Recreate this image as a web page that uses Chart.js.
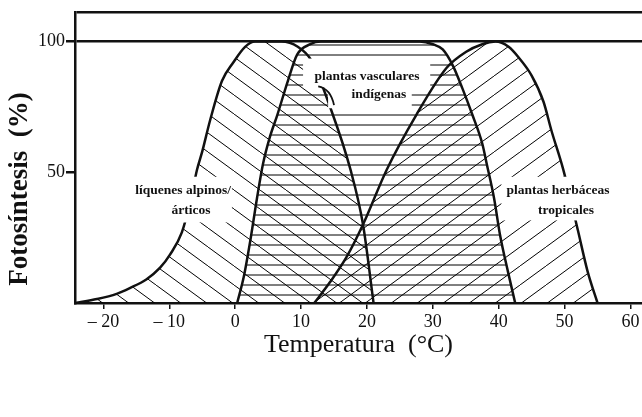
<!DOCTYPE html>
<html>
<head>
<meta charset="utf-8">
<script src="https://cdn.jsdelivr.net/npm/chart.js@4.4.0/dist/chart.umd.min.js"></script>
<style>
  html, body { margin: 0; padding: 0; background: #fff; }
  canvas { display: block; }
</style>
</head>
<body>
<canvas id="fotoChart" width="642" height="417"></canvas>
<script>
// Temperatura (°C) / Fotosíntesis (%)
const liquenesT = [-24.3, -21, -18, -16, -13.5, -11.4, -9.9, -8.1, -6.8, -5.8, -5, -3.8, -2, -0.3, 1.5, 3, 7, 9.5, 11.5, 14.4, 17.5, 19.4, 21];
const liquenesF = [0, 1.5, 3.5, 5.7, 9, 13.5, 18.5, 27, 39, 51, 58, 70, 85, 92, 98, 100, 100, 98, 93, 75, 51, 30, 0];

const vascularesT = [0.3, 1.3, 2.3, 3.3, 4.2, 5.2, 6.4, 8, 9.4, 11.4, 13, 28, 30, 31.5, 33, 34.5, 36, 37.5, 38.2, 39.3, 40.2, 41.4, 42.5];
const vascularesF = [0, 10, 24, 40, 53, 63, 72, 85, 95, 99, 100, 100, 99, 97, 91, 82, 72, 61, 53, 40, 26, 12, 0];

const tropicalesT = [12, 14.4, 17, 19.4, 23, 27.5, 32.1, 35, 37.5, 39.5, 41.5, 43, 45, 46.8, 48, 49.8, 52, 53.5, 55];
const tropicalesF = [0, 8, 18, 30, 51, 72, 90, 96, 99, 100, 98, 94, 87, 77, 66, 51, 28, 12, 0];

const xTicks = [-20, -10, 0, 10, 20, 30, 40, 50, 60];
const yTicks = [50, 100];

const X_MIN = -24.32, X_MAX = 61.75;
const Y_MAX = 111.4;
const INK = '#111';

// label texts and where they sit (data units)
const labels = [
    { text: 'plantas vasculares', x: 20.0, y: 86.7 },
    { text: 'indígenas', x: 21.8, y: 79.8 },
    { text: 'líquenes alpinos/', x: -7.9, y: 43.0 },
    { text: 'árticos', x: -6.7, y: 35.4 },
    { text: 'plantas herbáceas', x: 49.0, y: 43.0 },
    { text: 'tropicales', x: 50.2, y: 35.4 }
];
const labelBoxes = [
    [10.3, 29.6, 93.5, 82.5],
    [14.1, 26.8, 82.5, 74.5],
    [-15.4, -0.5, 48.3, 30.8],
    [40.4, 57.8, 48.3, 31.6]
];

function toPoints(xs, ys) {
    return xs.map((x, i) => ({ x: x, y: ys[i] }));
}

// hatch patterns
function hatch(ctx, kind) {
    const c = document.createElement('canvas');
    const g = c.getContext('2d');
    g.strokeStyle = INK;
    g.lineWidth = 1.8;
    if (kind === '-') {
        c.width = 8; c.height = 10;
        g.beginPath();
        g.moveTo(0, 5); g.lineTo(8, 5);
        g.stroke();
    } else {
        const w = 26, h = 19;
        c.width = w; c.height = h;
        g.beginPath();
        for (const dx of [-w, 0, w]) {
            if (kind === '/') { g.moveTo(dx, h); g.lineTo(dx + w, 0); }
            else { g.moveTo(dx, 0); g.lineTo(dx + w, h); }
        }
        g.stroke();
    }
    return ctx.createPattern(c, 'repeat');
}

const textPlugin = {
    id: 'textos',
    afterDatasetsDraw(chart) {
        const ctx = chart.ctx;
        const xs = chart.scales.x, ys = chart.scales.y;
        ctx.save();
        ctx.fillStyle = '#fff';
        labelBoxes.forEach(b => {
            const x0 = xs.getPixelForValue(b[0]), x1 = xs.getPixelForValue(b[1]);
            const y0 = ys.getPixelForValue(b[2]), y1 = ys.getPixelForValue(b[3]);
            ctx.fillRect(x0, y0, x1 - x0, y1 - y0);
        });
        ctx.fillStyle = INK;
        ctx.font = 'bold 13.5px "Liberation Serif"';
        ctx.textAlign = 'center';
        ctx.textBaseline = 'middle';
        labels.forEach(l => {
            ctx.fillText(l.text, xs.getPixelForValue(l.x), ys.getPixelForValue(l.y));
        });
        // leader under "plantas vasculares"
        ctx.strokeStyle = INK;
        ctx.lineWidth = 1.8;
        ctx.beginPath();
        ctx.moveTo(xs.getPixelForValue(12.6), ys.getPixelForValue(82.9));
        ctx.quadraticCurveTo(xs.getPixelForValue(14.5), ys.getPixelForValue(82), xs.getPixelForValue(15.0), ys.getPixelForValue(75.7));
        ctx.stroke();
        // y axis title
        ctx.font = 'bold 27px "Liberation Serif"';
        ctx.translate(20, 189);
        ctx.rotate(-Math.PI / 2);
        ctx.fillText('Fotosíntesis  (%)', 0, 0);
        ctx.restore();
    }
};

const ctx = document.getElementById('fotoChart').getContext('2d');

new Chart(ctx, {
    type: 'line',
    data: {
        datasets: [
            {
                label: 'líquenes alpinos/árticos',
                data: toPoints(liquenesT, liquenesF),
                backgroundColor: hatch(ctx, '\\'),
                fill: 'origin'
            },
            {
                label: 'plantas vasculares indígenas',
                data: toPoints(vascularesT, vascularesF),
                backgroundColor: hatch(ctx, '-'),
                fill: 'origin'
            },
            {
                label: 'plantas herbáceas tropicales',
                data: toPoints(tropicalesT, tropicalesF),
                backgroundColor: hatch(ctx, '/'),
                fill: 'origin'
            }
        ]
    },
    options: {
        responsive: false,
        animation: false,
        events: [],
        layout: { padding: { top: 10, left: 0, right: 0, bottom: 0 } },
        elements: {
            line: { borderColor: INK, borderWidth: 2.5, cubicInterpolationMode: 'monotone' },
            point: { radius: 0 }
        },
        plugins: {
            legend: { display: false },
            tooltip: { enabled: false },
            filler: { drawTime: 'beforeDatasetsDraw' }
        },
        scales: {
            x: {
                type: 'linear',
                min: X_MIN,
                max: X_MAX,
                afterFit: s => { s.height = 114; },
                afterBuildTicks: s => { s.ticks = xTicks.map(v => ({ value: v })); },
                ticks: {
                    callback: v => v < 0 ? '– ' + Math.abs(v) : String(v),
                    font: { family: 'Liberation Serif', size: 18 },
                    color: INK,
                    padding: 2,
                    maxRotation: 0,
                    autoSkip: false
                },
                grid: { drawOnChartArea: false, tickLength: 6, color: INK, lineWidth: 1.5 },
                border: { display: true, color: INK, width: 2.5 },
                title: {
                    display: true,
                    text: 'Temperatura  (°C)',
                    font: { family: 'Liberation Serif', size: 26 },
                    color: INK,
                    padding: { top: 0, bottom: 56 }
                }
            },
            y: {
                type: 'linear',
                min: 0,
                max: Y_MAX,
                afterFit: s => { s.width = 75; },
                afterBuildTicks: s => { s.ticks = [0, ...yTicks, Y_MAX].map(v => ({ value: v })); },
                ticks: {
                    callback: v => yTicks.includes(v) ? String(v) : '',
                    font: { family: 'Liberation Serif', size: 18 },
                    color: INK,
                    padding: 1
                },
                grid: {
                    color: c => (c.tick && (c.tick.value === 100 || c.tick.value === Y_MAX)) ? INK : 'rgba(0,0,0,0)',
                    tickColor: c => (c.tick && yTicks.includes(c.tick.value)) ? INK : 'rgba(0,0,0,0)',
                    lineWidth: 2.5,
                    tickLength: 9
                },
                border: { display: true, color: INK, width: 2.5 }
            }
        }
    },
    plugins: [textPlugin]
});
</script>
</body>
</html>
